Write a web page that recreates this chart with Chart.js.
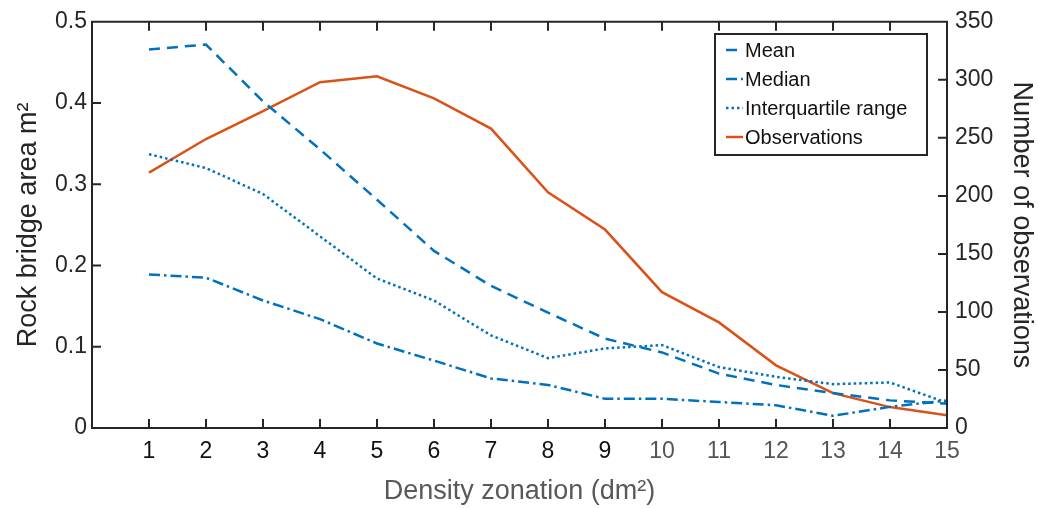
<!DOCTYPE html>
<html>
<head>
<meta charset="utf-8">
<script src="https://cdn.jsdelivr.net/npm/chart.js@4.4.1/dist/chart.umd.min.js"></script>
<style>
  html, body { margin: 0; padding: 0; background: #fff; }
  #wrap { width: 1038px; height: 508px; }
</style>
</head>
<body>
<div id="wrap"><canvas id="chart"></canvas></div>
<script>
const zones = [1, 2, 3, 4, 5, 6, 7, 8, 9, 10, 11, 12, 13, 14, 15];
const meanArea = [0.466, 0.472, 0.402, 0.343, 0.281, 0.218, 0.175, 0.142, 0.110, 0.093, 0.067, 0.053, 0.043, 0.034, 0.030];
const medianArea = [0.189, 0.185, 0.157, 0.134, 0.104, 0.083, 0.061, 0.053, 0.036, 0.036, 0.032, 0.028, 0.015, 0.026, 0.034];
const iqrArea = [0.337, 0.320, 0.288, 0.236, 0.184, 0.157, 0.114, 0.086, 0.098, 0.102, 0.075, 0.063, 0.054, 0.056, 0.031];
const observations = [220, 249, 273, 298, 303, 284, 258, 203, 171, 117, 91, 54, 30, 18, 11];

const areaTicks = [0, 0.1, 0.2, 0.3, 0.4, 0.5];
const countTicks = [0, 50, 100, 150, 200, 250, 300, 350];

const BLUE = '#0072BD';
const ORANGE = '#D95319';
const AXIS = '#262626';
const FONT = '"Liberation Sans", Arial, sans-serif';

const points = vals => zones.map((z, i) => ({ x: z, y: vals[i] }));

// frame + inward ticks, drawn like the matlab axes box
const framePlugin = {
  id: 'frame',
  afterDatasetsDraw(chart) {
    const { ctx, chartArea: a, scales } = chart;
    const tl = 9;
    ctx.save();
    ctx.strokeStyle = AXIS;
    ctx.lineWidth = 2;
    ctx.beginPath();
    ctx.rect(a.left, a.top, a.right - a.left, a.bottom - a.top);
    zones.forEach(z => {
      const px = scales.x.getPixelForValue(z);
      ctx.moveTo(px, a.bottom); ctx.lineTo(px, a.bottom - tl);
      ctx.moveTo(px, a.top); ctx.lineTo(px, a.top + tl);
    });
    areaTicks.forEach(v => {
      const py = scales.y.getPixelForValue(v);
      ctx.moveTo(a.left, py); ctx.lineTo(a.left + tl, py);
    });
    countTicks.forEach(v => {
      const py = scales.y1.getPixelForValue(v);
      ctx.moveTo(a.right, py); ctx.lineTo(a.right - tl, py);
    });
    ctx.stroke();
    ctx.restore();
  }
};

// boxed legend inside the plot, top right
const boxLegend = {
  id: 'boxLegend',
  afterDraw(chart) {
    const { ctx } = chart;
    const x0 = 715, y0 = 34, w = 212, h = 121, row = 29;
    ctx.save();
    ctx.fillStyle = '#fff';
    ctx.fillRect(x0, y0, w, h);
    ctx.strokeStyle = AXIS;
    ctx.lineWidth = 2;
    ctx.strokeRect(x0, y0, w, h);
    ctx.font = '20px ' + FONT;
    ctx.textBaseline = 'middle';
    chart.data.datasets.forEach((ds, i) => {
      const cy = y0 + 16 + i * row;
      ctx.strokeStyle = ds.borderColor;
      ctx.lineWidth = ds.borderWidth;
      ctx.setLineDash(ds.borderDash || []);
      ctx.beginPath();
      ctx.moveTo(x0 + 11, cy);
      ctx.lineTo(x0 + 28, cy);
      ctx.stroke();
      ctx.setLineDash([]);
      ctx.fillStyle = '#111';
      ctx.fillText(ds.label, x0 + 30, cy + 1);
    });
    ctx.restore();
  }
};

new Chart(document.getElementById('chart'), {
  type: 'line',
  data: {
    datasets: [
      { label: 'Mean', data: points(meanArea), yAxisID: 'y', borderColor: BLUE, borderWidth: 2.5, borderDash: [11, 7] },
      { label: 'Median', data: points(medianArea), yAxisID: 'y', borderColor: BLUE, borderWidth: 2.5, borderDash: [11, 4, 2.5, 4] },
      { label: 'Interquartile range', data: points(iqrArea), yAxisID: 'y', borderColor: BLUE, borderWidth: 2.5, borderDash: [2.5, 3] },
      { label: 'Observations', data: points(observations), yAxisID: 'y1', borderColor: ORANGE, borderWidth: 2.5 }
    ]
  },
  options: {
    responsive: true,
    maintainAspectRatio: false,
    animation: false,
    elements: { point: { radius: 0 }, line: { tension: 0 } },
    layout: { padding: { top: 20, left: 0, right: 0, bottom: 0 } },
    plugins: { legend: { display: false }, tooltip: { enabled: false } },
    scales: {
      x: {
        type: 'linear',
        min: 0,
        max: 15,
        afterBuildTicks: s => { s.ticks = zones.map(v => ({ value: v })); },
        afterFit: s => { s.height = 80; },
        grid: { display: false, drawTicks: false },
        border: { display: false },
        ticks: {
          padding: 10,
          maxRotation: 0,
          autoSkip: false,
          font: { family: FONT, size: 23 },
          color: c => (c.tick && c.tick.value >= 10 ? '#555' : '#111')
        },
        title: {
          display: true,
          text: 'Density zonation (dm²)',
          color: '#595959',
          font: { family: FONT, size: 27 },
          padding: { top: 0, bottom: 0 }
        }
      },
      y: {
        position: 'left',
        min: 0,
        max: 0.5,
        afterBuildTicks: s => { s.ticks = areaTicks.map(v => ({ value: v })); },
        afterFit: s => { s.width = 92; },
        grid: { display: false, drawTicks: false },
        border: { display: false },
        ticks: { padding: 5, font: { family: FONT, size: 23 }, color: AXIS },
        title: {
          display: true,
          text: 'Rock bridge area m²',
          color: AXIS,
          font: { family: FONT, size: 27 },
          padding: { top: 12, bottom: 0 }
        }
      },
      y1: {
        position: 'right',
        min: 0,
        max: 350,
        afterBuildTicks: s => { s.ticks = countTicks.map(v => ({ value: v })); },
        afterFit: s => { s.width = 91; },
        grid: { display: false, drawTicks: false },
        border: { display: false },
        ticks: { padding: 8, font: { family: FONT, size: 23 }, color: AXIS },
        title: {
          display: true,
          text: 'Number of observations',
          color: AXIS,
          font: { family: FONT, size: 27 },
          padding: { top: 0, bottom: 0 }
        }
      }
    }
  },
  plugins: [framePlugin, boxLegend]
});
</script>
</body>
</html>
